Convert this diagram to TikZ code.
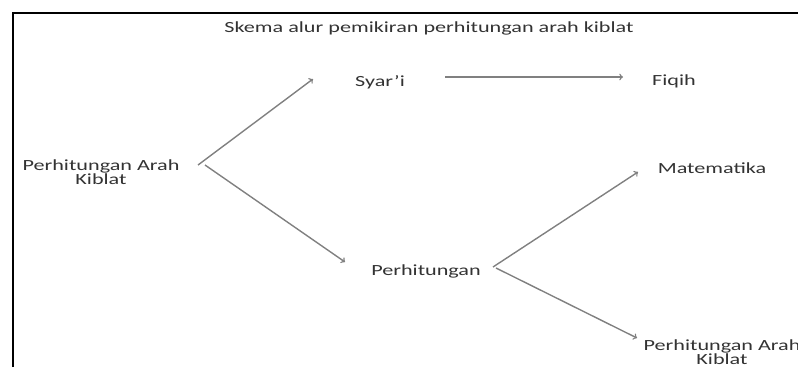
\documentclass[tikz,border=0pt]{standalone}
\usepackage{fontspec}
\setmainfont{Carlito}[FakeStretch=1.43]
\usepackage{tikz}
\usetikzlibrary{arrows,shapes}
\tikzstyle{term}=[text=black!80,inner sep=0pt,align=center,font=\fontsize{15.5}{14}\selectfont]
\tikzstyle{flow} = [draw,black!50,line width=1.4pt,->]

\begin{document}
\begin{tikzpicture}[x=1pt,y=-1pt]
    \useasboundingbox (0,0) rectangle (798,367);
    % Frame of the page
    \draw[line width=2.5pt] (13,367) -- (13,13) -- (798,13);

    % First we place the terms
    \node[term] (title) at (429,28) {Skema alur pemikiran perhitungan arah kiblat};
    \foreach \pos/\name/\txt in {{(101,172)/kiblat/Perhitungan Arah\\Kiblat}, {(380,82)/syari/Syar'i},
        {(674,81)/fiqih/Fiqih}, {(426,271)/hitung/Perhitungan}, {(712,168)/mat/Matematika},
        {(722,352)/kiblatb/Perhitungan Arah\\Kiblat}}
        \node[term] (\name) at \pos {\txt};

    % Connect terms with arrows
    \path[flow] ([shift={(97,-7)}]kiblat.center) -- ([shift={(-67,-3)}]syari.center);
    \path[flow] ([shift={(104,-7)}]kiblat.center) -- ([shift={(-81,-9)}]hitung.center);
    \path[flow] ([shift={(65,-5)}]syari.center) -- ([shift={(-51,-4)}]fiqih.center);
    \path[flow] ([shift={(67,-4)}]hitung.center) -- ([shift={(-74,4)}]mat.center);
    \path[flow] ([shift={(70,-3)}]hitung.center) -- ([shift={(-85,-14)}]kiblatb.center);
\end{tikzpicture}
\end{document}
